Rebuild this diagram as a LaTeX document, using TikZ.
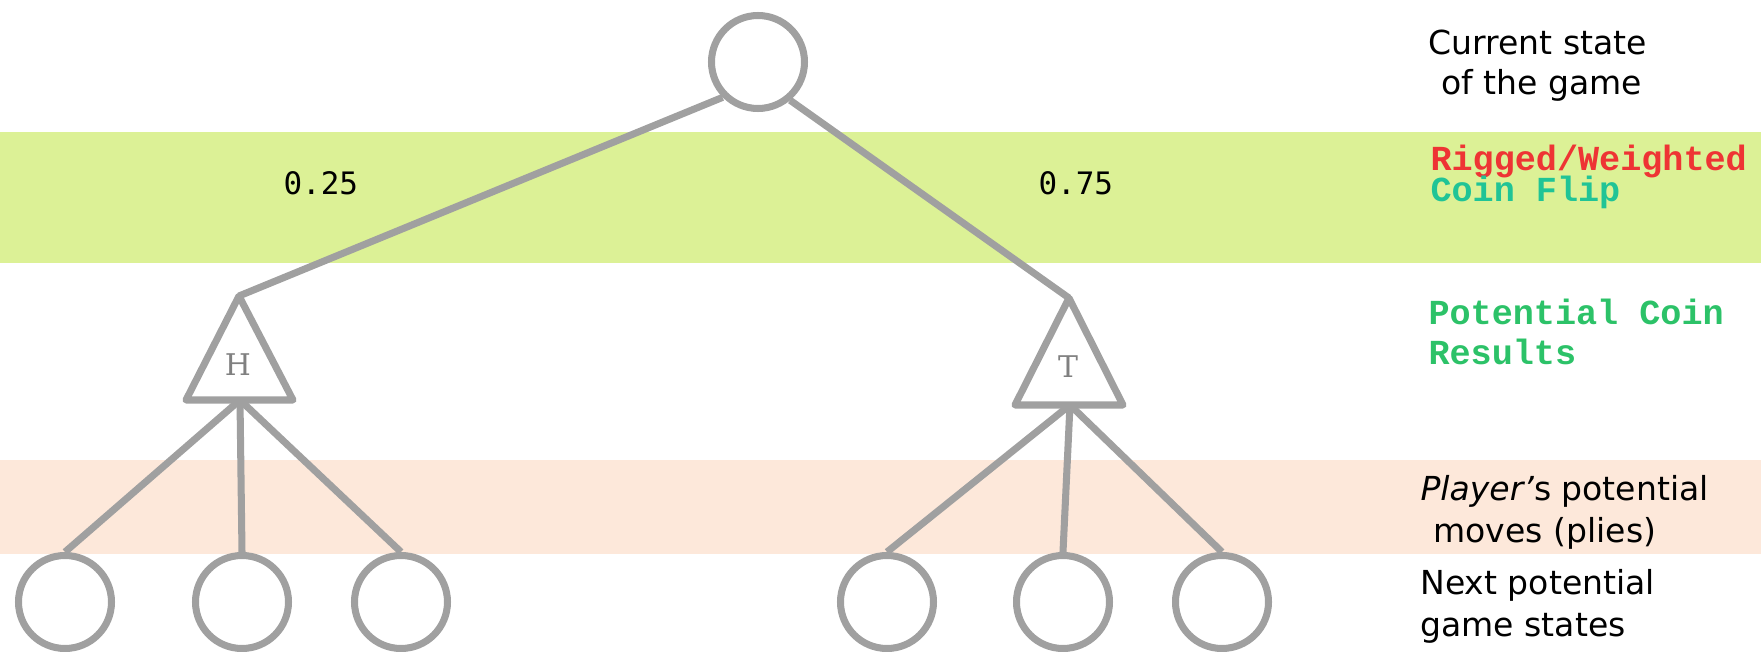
\documentclass[tikz,border=0pt]{standalone}
\usepackage{fontspec}
\setmainfont{DejaVu Sans}
\newfontfamily\codefont{Liberation Mono}
\newfontfamily\probfont{DejaVu Sans Mono}
\newfontfamily\coinfont{DejaVu Serif}
\definecolor{linegray}{RGB}{160,160,160}
\definecolor{bandgreen}{RGB}{220,241,150}
\definecolor{bandpeach}{RGB}{253,232,218}
\definecolor{riggedred}{RGB}{238,52,52}
\definecolor{flipteal}{RGB}{32,196,150}
\definecolor{coingreen}{RGB}{44,194,104}
\begin{document}
\begin{tikzpicture}
[x=0.1mm, y=-0.1mm, line width=2pt,
 state/.style={circle, draw=linegray, minimum size=9.3mm, inner sep=0pt},
 edge/.style={draw=linegray, line join=round},
 note/.style={anchor=base west, inner sep=0pt, font=\fontsize{9.4}{11}\selectfont},
 code/.style={anchor=base west, inner sep=0pt, text height=2mm, text depth=0.4mm,
   font=\codefont\bfseries\fontsize{10}{12}\selectfont},
 prob/.style={anchor=base west, inner sep=0pt, font=\probfont\fontsize{8.8}{10}\selectfont},
 coin/.style={inner sep=0pt, text=gray, font=\coinfont\fontsize{8.5}{10}\selectfont}]

  \useasboundingbox (0,0) rectangle (1761,652);

  % bands
  \fill[bandgreen] (0,132) rectangle (1761,263);
  \fill[bandpeach] (0,460) rectangle (1761,554);

  % game states
  \node[state] (root) at (758,62) {};
  \foreach \x/\n in {65/h1, 242/h2, 401/h3, 887/t1, 1063/t2, 1222/t3}
    \node[state] (\n) at (\x,602) {};

  % coin results
  \coordinate (hTop) at (239,296);
  \coordinate (hBase) at (240,400);
  \coordinate (tTop) at (1069,298);
  \coordinate (tBase) at (1070,405);
  \draw[edge] (hTop) -- (186,400) -- (293,400) -- cycle;
  \draw[edge] (tTop) -- (1015,405) -- (1123,405) -- cycle;
  \node[coin] (hLabel) at (238,365) {H};
  \node[coin] (tLabel) at (1068,367) {T};

  \draw[edge] (root.225) -- (hTop);
  \draw[edge] (root.310) -- (tTop);
  \foreach \n in {h1,h2,h3}
    \draw[edge] (hBase) -- (\n.north);
  \foreach \n in {t1,t2,t3}
    \draw[edge] (tBase) -- (\n.north);

  \node[prob] (pH) at (280,195) {0.25};
  \node[prob] (pT) at (1035,195) {0.75};

  % legend
  \node[note] (cur) at (1425,55) {Current state};
  \node[note] (cur2) at (1438,95) {of the game};
  \node[code, text=riggedred] (rig) at (1427,171) {Rigged/Weighted};
  \node[code, text=flipteal] (flip) at (1427,202) {Coin Flip};
  \node[code, text=coingreen] (pot) at (1425,325) {Potential Coin};
  \node[code, text=coingreen] (res) at (1425,365) {Results};
  \node[note] (ply) at (1417,500) {\textit{Player'}s potential};
  \node[note] (ply2) at (1430,543) {moves (plies)};
  \node[note] (nxt) at (1417,595) {Next potential};
  \node[note] (nxt2) at (1417,637) {game states};
\end{tikzpicture}
\end{document}
